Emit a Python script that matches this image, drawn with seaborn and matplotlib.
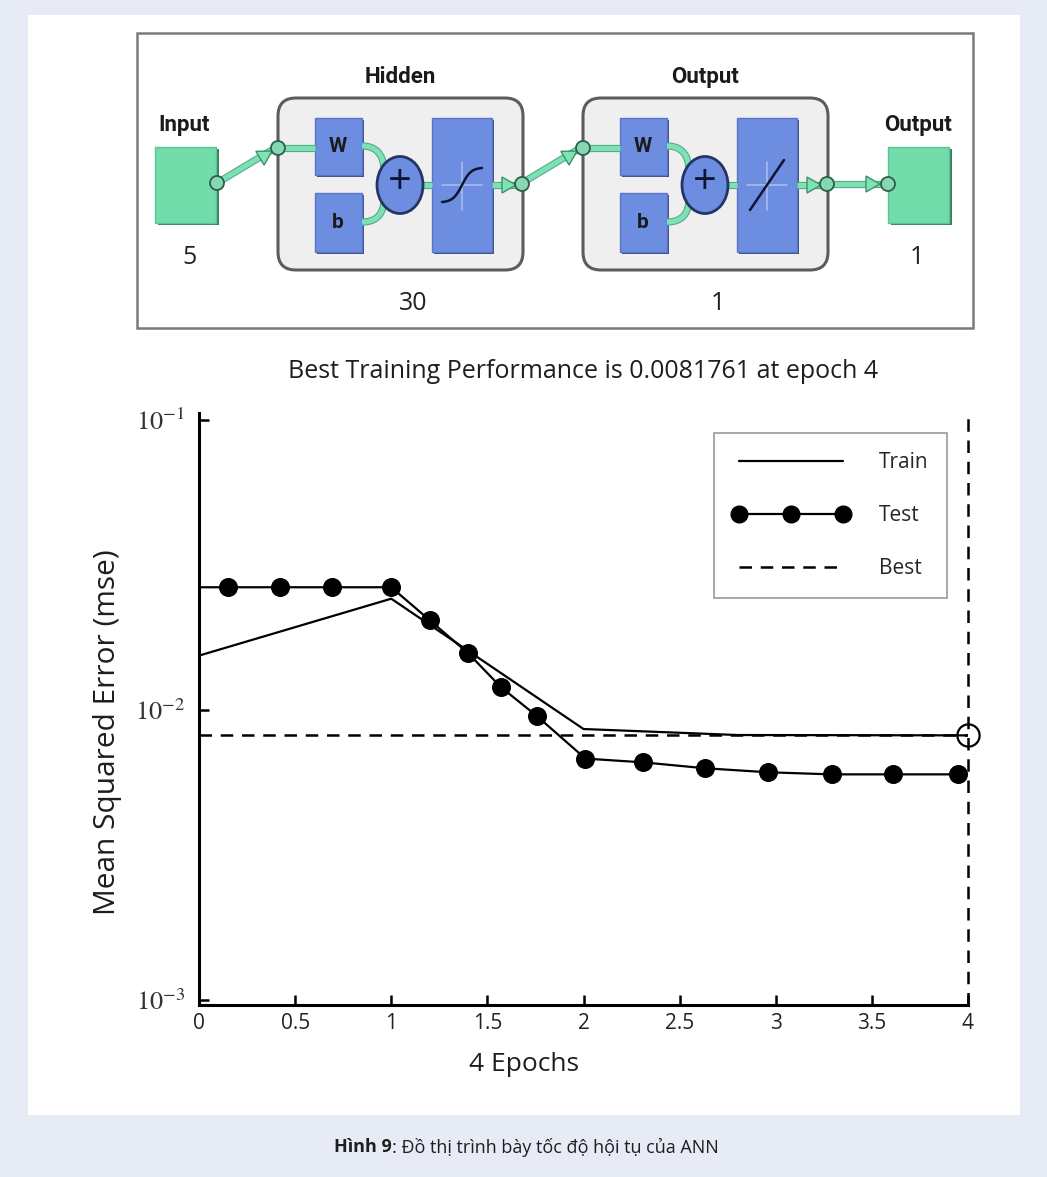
import numpy as np
import seaborn as sns
import matplotlib.pyplot as plt
from matplotlib.patches import Rectangle, FancyBboxPatch, Circle, Ellipse, Polygon
from matplotlib.lines import Line2D

# convergence data
train_x = [0, 1, 2, 2.8, 4]
train_y = [0.0154, 0.0242, 0.0086, 0.0082, 0.0081761]
test_x = [0, 0.15, 0.42, 0.69, 1.0, 1.20, 1.40, 1.57, 1.76, 2.01, 2.31, 2.63, 2.96, 3.29, 3.61, 3.95]
test_y = [0.0265, 0.0265, 0.0265, 0.0265, 0.0265, 0.0204, 0.0157, 0.0120, 0.0095,
          0.0068, 0.0066, 0.0063, 0.0061, 0.0060, 0.0060, 0.0060]
best_epoch = 4
best_perf = 0.0081761
x_ticks = [0, 0.5, 1, 1.5, 2, 2.5, 3, 3.5, 4]
x_tick_labels = ['0', '0.5', '1', '1.5', '2', '2.5', '3', '3.5', '4']
y_ticks = [1e-3, 1e-2, 1e-1]
y_tick_labels = [r'$10^{-3}$', r'$10^{-2}$', r'$10^{-1}$']

sns.set_theme(style='white')
plt.rcParams['font.family'] = ['Open Sans', 'DejaVu Sans']
plt.rcParams['mathtext.fontset'] = 'stix'

W, H = 1047, 1177
fig = plt.figure(figsize=(W / 100, H / 100), dpi=100)
fig.patch.set_facecolor('#e6ebf6')

# background layer in pixel coordinates
bg = fig.add_axes([0, 0, 1, 1], zorder=0)
bg.set_xlim(0, W)
bg.set_ylim(H, 0)
bg.axis('off')
bg.add_patch(Rectangle((28, 15), 992, 1100, fc='white', ec='none'))

# ---- network diagram ----
GREEN = '#72dcab'
GREEN_E = '#3f8f69'
BLUE = '#6d8de0'

bg.add_patch(Rectangle((137, 33), 836, 295, fc='white', ec='#7a7a7a', lw=1.8))


def blue_box(x0, y0, x1, y1):
    bg.add_patch(Rectangle((x0 + 2, y0 + 2), x1 - x0, y1 - y0, fc='#3e4f86', ec='none', zorder=3))
    bg.add_patch(Rectangle((x0, y0), x1 - x0, y1 - y0, fc=BLUE, ec='#5a75c8', lw=1, zorder=4))


def node(x, y):
    bg.add_patch(Circle((x, y), 7, fc='#86d8b2', ec='#2e5f48', lw=1.3, zorder=7))


def arrow_head(x, y, dx, dy):
    d = np.hypot(dx, dy)
    ux, uy = dx / d, dy / d
    px, py = -uy, ux
    L, Wd = 14, 8
    pts = [(x, y), (x - L * ux + Wd * px, y - L * uy + Wd * py), (x - L * ux - Wd * px, y - L * uy - Wd * py)]
    bg.add_patch(Polygon(pts, closed=True, fc='#7fe3b6', ec=GREEN_E, lw=1, zorder=6))


def wire(xs, ys):
    bg.plot(xs, ys, color='#4fae85', lw=5.2, solid_capstyle='butt', zorder=5)
    bg.plot(xs, ys, color='#80e0b5', lw=3.6, solid_capstyle='butt', zorder=5)


def label(x, y, s, size=16):
    bg.text(x, y, s, ha='center', va='center', fontsize=size, fontweight='bold',
            family='Roboto', color='#1a1a1a', zorder=8)


def layer(x0, name, size, shape):
    # layer box
    bg.add_patch(FancyBboxPatch((x0 + 12, 110), 221, 148, boxstyle='round,pad=12,rounding_size=18',
                                fc='#efefef', ec='#5c5c5c', lw=2.2, zorder=2))
    label(x0 + 122, 77, name)
    bg.text(x0 + 135, 303, size, ha='center', va='center', fontsize=18, color='#222222')
    # input wire to W
    wire([x0, x0 + 37], [148, 148])
    node(x0, 148)
    blue_box(x0 + 37, 118, x0 + 84, 175)
    blue_box(x0 + 37, 193, x0 + 84, 252)
    label(x0 + 60, 146, 'W', 15)
    label(x0 + 60, 222, 'b', 15)
    # curves into summation
    t = np.linspace(0, 1, 30)
    cx = x0 + 122
    for ys, ye in [(146, 168), (222, 202)]:
        px = (1 - t) ** 2 * (x0 + 84) + 2 * (1 - t) * t * (x0 + 104) + t ** 2 * (cx - 16)
        py = (1 - t) ** 2 * ys + 2 * (1 - t) * t * ys + t ** 2 * ye
        wire(px, py)
    wire([cx + 20, x0 + 154], [185, 185])
    bg.add_patch(Ellipse((cx, 185), 46, 57, fc=BLUE, ec='#263464', lw=2, zorder=6))
    bg.text(cx, 183, '+', ha='center', va='center', fontsize=30, color='#0d1530', zorder=7)
    # transfer function box
    blue_box(x0 + 154, 118, x0 + 214, 252)
    mx, my = x0 + 184, 185
    bg.plot([mx, mx], [162, 210], color='#a9bbef', lw=1.2, zorder=6)
    bg.plot([mx - 20, mx + 20], [my, my], color='#a9bbef', lw=1.2, zorder=6)
    if shape == 'sig':
        s = np.linspace(-1, 1, 50)
        bg.plot(mx + 20 * s, my - 17 * np.tanh(2.2 * s) / np.tanh(2.2), color='#0d1530', lw=1.8, zorder=7)
    else:
        bg.plot([mx - 17, mx + 17], [my + 25, my - 25], color='#0d1530', lw=1.8, zorder=7)
    # output of layer
    wire([x0 + 214, x0 + 244], [185, 185])
    arrow_head(x0 + 238, 185, 1, 0)
    node(x0 + 244, 184)


# input block
bg.add_patch(Rectangle((158, 149), 61, 76, fc='#3c7d5d', ec='none', zorder=2))
bg.add_patch(Rectangle((155, 147), 61, 76, fc=GREEN, ec='#5cc596', lw=1, zorder=3))
label(184, 125, 'Input')
bg.text(190, 258, '5', ha='center', va='center', fontsize=18, color='#222222')
wire([217, 272], [183, 150])
arrow_head(272, 151, 55, -33)
node(217, 183)

layer(278, 'Hidden', '30', 'sig')
wire([522, 577], [183, 150])
arrow_head(577, 151, 55, -33)
layer(583, 'Output', '1', 'lin')

# output block
wire([827, 886], [184, 184])
arrow_head(880, 184, 1, 0)
bg.add_patch(Rectangle((891, 149), 61, 76, fc='#3c7d5d', ec='none', zorder=2))
bg.add_patch(Rectangle((888, 147), 61, 76, fc=GREEN, ec='#5cc596', lw=1, zorder=3))
node(888, 184)
label(918, 125, 'Output')
bg.text(917, 258, '1', ha='center', va='center', fontsize=18, color='#222222')

# caption
bg.text(392, 1147, 'Hình 9', ha='right', va='center', fontsize=13, fontweight='bold',
        family='Open Sans', color='#1e1e1e')
bg.text(392, 1147, ': Đồ thị trình bày tốc độ hội tụ của ANN', ha='left', va='center',
        fontsize=13, family='Open Sans', color='#1e1e1e')

# ---- performance plot ----
ax = fig.add_axes([199 / W, (H - 1005) / H, 769 / W, 592 / H], zorder=1)
ax.patch.set_alpha(0)

sns.lineplot(x=train_x, y=train_y, ax=ax, color='black', lw=1.6, estimator=None, sort=False)
sns.lineplot(x=test_x, y=test_y, ax=ax, color='black', lw=1.6, estimator=None, sort=False)
sns.scatterplot(x=test_x[1:], y=test_y[1:], ax=ax, color='black', s=160, edgecolor='black',
                zorder=4, clip_on=False)
ax.axhline(best_perf, color='black', lw=1.8, ls=(0, (5, 3.5)))
ax.axvline(best_epoch, color='black', lw=1.8, ls=(0, (5, 3.5)), clip_on=False)
ax.plot([best_epoch], [best_perf], marker='o', ms=16, mfc='none', mec='black', mew=1.6,
        clip_on=False, zorder=5)

ax.set_yscale('log')
ax.set_xlim(0, 4)
ax.set_ylim(10 ** -3.017, 10 ** -0.976)
ax.set_xticks(x_ticks)
ax.set_xticklabels(x_tick_labels, fontsize=15, color='#222222')
ax.set_yticks(y_ticks)
ax.set_yticklabels(y_tick_labels, fontsize=19, color='#333333')
ax.minorticks_off()
ax.tick_params(bottom=True, left=True, direction='in', length=7, width=1.8, color='black')
ax.tick_params(axis='y', pad=10)
ax.tick_params(axis='x', pad=6)

for side in ['top', 'right']:
    ax.spines[side].set_visible(False)
for side in ['left', 'bottom']:
    ax.spines[side].set_color('black')
    ax.spines[side].set_linewidth(2.2)

ax.set_title('Best Training Performance is 0.0081761 at epoch 4', fontsize=18,
             color='#1e1e1e', pad=25)
ax.set_xlabel('4 Epochs', fontsize=19, color='#1e1e1e')
ax.set_ylabel('Mean Squared Error (mse)', fontsize=21.5, color='#1e1e1e')
ax.xaxis.set_label_coords(0.4226, -0.08)
ax.yaxis.set_label_coords(-0.10, 0.461)

handles = [Line2D([], [], color='black', lw=1.6),
           Line2D([], [], color='black', lw=1.6, marker='o', ms=12),
           Line2D([], [], color='black', lw=1.8, ls=(0, (5, 3.5)))]
leg = ax.legend(handles, ['Train', 'Test', 'Best'], loc='upper right',
                bbox_to_anchor=(0.973, 0.966), borderaxespad=0, numpoints=3,
                handlelength=5.6, handletextpad=1.4, labelspacing=1.55, fontsize=15,
                fancybox=False, framealpha=1, edgecolor='#9a9a9a', borderpad=0.9)
leg.get_frame().set_linewidth(1.2)

fig.savefig('out.png', dpi=100, facecolor=fig.get_facecolor())
